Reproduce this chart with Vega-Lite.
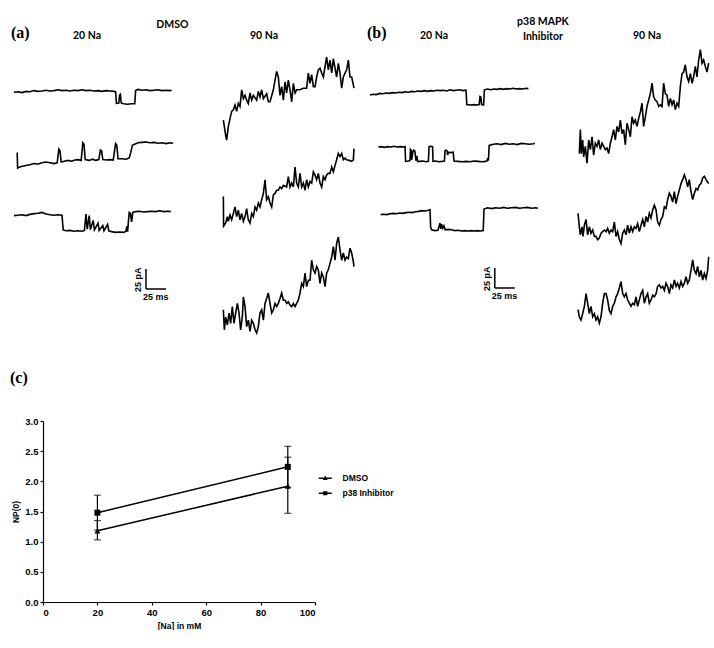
{
"$schema": "https://vega.github.io/schema/vega-lite/v6.json",
"padding": {"left": 10, "top": 17, "right": 0, "bottom": 0},
"background": "white",
"config": {"view": {"stroke": null}, "font": "Liberation Sans",
 "axis": {"grid": false, "domainColor": "black", "tickColor": "black", "tickSize": 3, "domainWidth": 1.2, "tickWidth": 1.2, "labelPadding": 2, "labelFont": "Liberation Sans", "labelFontSize": 9.5, "labelFontWeight": "bold", "labelColor": "black", "titleFont": "Liberation Sans", "titleFontSize": 8.5, "titleFontWeight": "bold", "titleColor": "black"}},
"datasets": {
"sb": [{"p":"A","t0":165,"t1":190,"i0":0,"i1":25,"tl":"25 ms","il":"25 pA"},{"p":"B","t0":156,"t1":181,"i0":0,"i1":25,"tl":"25 ms","il":"25 pA"}],
"np": [{"na":20,"g":"DMSO","np":1.18,"lo":1.03,"hi":1.35},{"na":90,"g":"DMSO","np":1.92,"lo":1.47,"hi":2.4},{"na":20,"g":"p38 Inhibitor","np":1.48,"lo":1.19,"hi":1.77},{"na":90,"g":"p38 Inhibitor","np":2.24,"lo":1.9,"hi":2.58}],
"tr": [
{"k":"a20_1","t":0,"i":-1.5},{"k":"a20_1","t":5,"i":-1},{"k":"a20_1","t":10,"i":-2},{"k":"a20_1","t":15,"i":-0.5},{"k":"a20_1","t":20,"i":-1},{"k":"a20_1","t":25,"i":0.5},{"k":"a20_1","t":30,"i":-0.5},{"k":"a20_1","t":35,"i":0},{"k":"a20_1","t":40,"i":1},{"k":"a20_1","t":45,"i":0},{"k":"a20_1","t":50,"i":0.5},{"k":"a20_1","t":55,"i":1.5},{"k":"a20_1","t":60,"i":0.5},{"k":"a20_1","t":65,"i":1},{"k":"a20_1","t":70,"i":0},{"k":"a20_1","t":75,"i":1},{"k":"a20_1","t":80,"i":0.5},{"k":"a20_1","t":85,"i":1.5},{"k":"a20_1","t":90,"i":0.5},{"k":"a20_1","t":95,"i":1},{"k":"a20_1","t":100,"i":0},{"k":"a20_1","t":105,"i":0.5},{"k":"a20_1","t":110,"i":-0.5},{"k":"a20_1","t":115,"i":0.5},{"k":"a20_1","t":120,"i":0},{"k":"a20_1","t":125,"i":-0.5},{"k":"a20_1","t":127,"i":-1},{"k":"a20_1","t":128,"i":-15.5},{"k":"a20_1","t":131,"i":-15},{"k":"a20_1","t":132,"i":-5},{"k":"a20_1","t":133,"i":-4},{"k":"a20_1","t":134,"i":-15},{"k":"a20_1","t":137,"i":-16},{"k":"a20_1","t":142,"i":-16.5},{"k":"a20_1","t":147,"i":-16},{"k":"a20_1","t":151,"i":-16},{"k":"a20_1","t":152,"i":0.5},{"k":"a20_1","t":155,"i":2},{"k":"a20_1","t":160,"i":1},{"k":"a20_1","t":165,"i":1.5},{"k":"a20_1","t":170,"i":0.5},{"k":"a20_1","t":175,"i":1},{"k":"a20_1","t":180,"i":1.5},{"k":"a20_1","t":185,"i":0.5},{"k":"a20_1","t":190,"i":1},{"k":"a20_1","t":195,"i":0.5},{"k":"a20_1","t":197,"i":1},
{"k":"a20_2","t":4,"i":12},{"k":"a20_2","t":4.5,"i":-7.5},{"k":"a20_2","t":8,"i":-6},{"k":"a20_2","t":12,"i":-5},{"k":"a20_2","t":16,"i":-4},{"k":"a20_2","t":20,"i":-3.5},{"k":"a20_2","t":25,"i":-2},{"k":"a20_2","t":30,"i":-2.5},{"k":"a20_2","t":35,"i":-1},{"k":"a20_2","t":40,"i":0},{"k":"a20_2","t":45,"i":-1},{"k":"a20_2","t":50,"i":-2},{"k":"a20_2","t":54,"i":-1},{"k":"a20_2","t":56,"i":16},{"k":"a20_2","t":57.5,"i":14},{"k":"a20_2","t":59,"i":0},{"k":"a20_2","t":63,"i":1},{"k":"a20_2","t":68,"i":2},{"k":"a20_2","t":72,"i":1},{"k":"a20_2","t":76,"i":2.5},{"k":"a20_2","t":80,"i":3},{"k":"a20_2","t":84,"i":2},{"k":"a20_2","t":86,"i":24},{"k":"a20_2","t":87.5,"i":22},{"k":"a20_2","t":89,"i":3},{"k":"a20_2","t":94,"i":2},{"k":"a20_2","t":98,"i":3.5},{"k":"a20_2","t":102,"i":2},{"k":"a20_2","t":106,"i":3},{"k":"a20_2","t":108,"i":15},{"k":"a20_2","t":109.5,"i":14},{"k":"a20_2","t":111,"i":3},{"k":"a20_2","t":116,"i":2.5},{"k":"a20_2","t":120,"i":3},{"k":"a20_2","t":124,"i":2.5},{"k":"a20_2","t":127,"i":23},{"k":"a20_2","t":128.5,"i":21},{"k":"a20_2","t":130,"i":4},{"k":"a20_2","t":135,"i":4},{"k":"a20_2","t":140,"i":3.5},{"k":"a20_2","t":144,"i":5},{"k":"a20_2","t":146,"i":12},{"k":"a20_2","t":148,"i":21},{"k":"a20_2","t":150,"i":22},{"k":"a20_2","t":155,"i":24},{"k":"a20_2","t":160,"i":24.5},{"k":"a20_2","t":165,"i":25},{"k":"a20_2","t":170,"i":24},{"k":"a20_2","t":175,"i":24.5},{"k":"a20_2","t":180,"i":23.5},{"k":"a20_2","t":185,"i":24},{"k":"a20_2","t":190,"i":23},{"k":"a20_2","t":195,"i":24},{"k":"a20_2","t":199,"i":23.5},
{"k":"a20_3","t":0,"i":0},{"k":"a20_3","t":5,"i":0.5},{"k":"a20_3","t":10,"i":1},{"k":"a20_3","t":15,"i":0},{"k":"a20_3","t":20,"i":1.5},{"k":"a20_3","t":25,"i":2.5},{"k":"a20_3","t":30,"i":3},{"k":"a20_3","t":35,"i":4},{"k":"a20_3","t":40,"i":2},{"k":"a20_3","t":45,"i":1},{"k":"a20_3","t":50,"i":0.5},{"k":"a20_3","t":55,"i":1},{"k":"a20_3","t":60,"i":0.5},{"k":"a20_3","t":61.5,"i":-18},{"k":"a20_3","t":65,"i":-19},{"k":"a20_3","t":70,"i":-18.5},{"k":"a20_3","t":75,"i":-19.5},{"k":"a20_3","t":80,"i":-19},{"k":"a20_3","t":85,"i":-19.5},{"k":"a20_3","t":88,"i":-18.5},{"k":"a20_3","t":90,"i":2},{"k":"a20_3","t":91.5,"i":-17},{"k":"a20_3","t":94,"i":0},{"k":"a20_3","t":95.5,"i":-17.5},{"k":"a20_3","t":99,"i":-6},{"k":"a20_3","t":100.5,"i":-18},{"k":"a20_3","t":105,"i":-9.5},{"k":"a20_3","t":106.5,"i":-18.5},{"k":"a20_3","t":111,"i":-12.5},{"k":"a20_3","t":112.5,"i":-19},{"k":"a20_3","t":117,"i":-11},{"k":"a20_3","t":118.5,"i":-19},{"k":"a20_3","t":122,"i":-20},{"k":"a20_3","t":127,"i":-21},{"k":"a20_3","t":132,"i":-20.5},{"k":"a20_3","t":137,"i":-21},{"k":"a20_3","t":140,"i":-19.5},{"k":"a20_3","t":141,"i":-13.5},{"k":"a20_3","t":142,"i":-20},{"k":"a20_3","t":144,"i":4},{"k":"a20_3","t":145.5,"i":3},{"k":"a20_3","t":147,"i":-8},{"k":"a20_3","t":148.5,"i":4},{"k":"a20_3","t":152,"i":5},{"k":"a20_3","t":157,"i":5.5},{"k":"a20_3","t":162,"i":4.5},{"k":"a20_3","t":167,"i":5},{"k":"a20_3","t":172,"i":5.5},{"k":"a20_3","t":177,"i":5},{"k":"a20_3","t":182,"i":6},{"k":"a20_3","t":187,"i":5},{"k":"a20_3","t":192,"i":5.5},{"k":"a20_3","t":196,"i":5},
{"k":"a90_1","t":1.7,"i":31},{"k":"a90_1","t":4.6,"i":12},{"k":"a90_1","t":5.8,"i":6},{"k":"a90_1","t":7.9,"i":23},{"k":"a90_1","t":10,"i":33},{"k":"a90_1","t":12.1,"i":42},{"k":"a90_1","t":14.2,"i":44},{"k":"a90_1","t":16.3,"i":50},{"k":"a90_1","t":18.3,"i":42},{"k":"a90_1","t":20.4,"i":52},{"k":"a90_1","t":22.5,"i":48},{"k":"a90_1","t":24.6,"i":69},{"k":"a90_1","t":26.7,"i":58},{"k":"a90_1","t":28.8,"i":62},{"k":"a90_1","t":30.8,"i":56},{"k":"a90_1","t":32.9,"i":52},{"k":"a90_1","t":35,"i":65},{"k":"a90_1","t":37.1,"i":56},{"k":"a90_1","t":39.2,"i":62},{"k":"a90_1","t":43.3,"i":56},{"k":"a90_1","t":45.4,"i":67},{"k":"a90_1","t":47.5,"i":60},{"k":"a90_1","t":49.6,"i":69},{"k":"a90_1","t":51.7,"i":58},{"k":"a90_1","t":55.8,"i":64},{"k":"a90_1","t":57.9,"i":54},{"k":"a90_1","t":60,"i":54},{"k":"a90_1","t":64.2,"i":69},{"k":"a90_1","t":66.3,"i":81},{"k":"a90_1","t":68.3,"i":92},{"k":"a90_1","t":70.4,"i":85},{"k":"a90_1","t":72.5,"i":62},{"k":"a90_1","t":74.6,"i":73},{"k":"a90_1","t":76.7,"i":56},{"k":"a90_1","t":78.8,"i":79},{"k":"a90_1","t":80.8,"i":65},{"k":"a90_1","t":82.9,"i":81},{"k":"a90_1","t":85,"i":69},{"k":"a90_1","t":87.1,"i":54},{"k":"a90_1","t":89.2,"i":77},{"k":"a90_1","t":91.3,"i":65},{"k":"a90_1","t":93.3,"i":69},{"k":"a90_1","t":97.5,"i":69},{"k":"a90_1","t":101.7,"i":71},{"k":"a90_1","t":105.8,"i":71},{"k":"a90_1","t":107.9,"i":90},{"k":"a90_1","t":110,"i":77},{"k":"a90_1","t":112.1,"i":88},{"k":"a90_1","t":114.2,"i":73},{"k":"a90_1","t":116.3,"i":73},{"k":"a90_1","t":118.3,"i":85},{"k":"a90_1","t":120.4,"i":94},{"k":"a90_1","t":122.5,"i":96},{"k":"a90_1","t":124.6,"i":90},{"k":"a90_1","t":126.7,"i":85},{"k":"a90_1","t":128.8,"i":98},{"k":"a90_1","t":130.8,"i":110},{"k":"a90_1","t":132.9,"i":94},{"k":"a90_1","t":135,"i":106},{"k":"a90_1","t":137.1,"i":90},{"k":"a90_1","t":139.2,"i":108},{"k":"a90_1","t":141.3,"i":96},{"k":"a90_1","t":143.3,"i":85},{"k":"a90_1","t":145.4,"i":102},{"k":"a90_1","t":147.5,"i":90},{"k":"a90_1","t":149.6,"i":71},{"k":"a90_1","t":151.7,"i":85},{"k":"a90_1","t":153.8,"i":90},{"k":"a90_1","t":155.8,"i":94},{"k":"a90_1","t":157.9,"i":106},{"k":"a90_1","t":160,"i":85},{"k":"a90_1","t":162.1,"i":85},{"k":"a90_1","t":165,"i":71},
{"k":"a90_2","t":1.7,"i":43},{"k":"a90_2","t":2,"i":6},{"k":"a90_2","t":4.6,"i":10},{"k":"a90_2","t":6.7,"i":18},{"k":"a90_2","t":7.9,"i":12},{"k":"a90_2","t":10,"i":20},{"k":"a90_2","t":12.1,"i":14},{"k":"a90_2","t":14.2,"i":22},{"k":"a90_2","t":16.3,"i":30},{"k":"a90_2","t":18.3,"i":18},{"k":"a90_2","t":20.4,"i":26},{"k":"a90_2","t":22.5,"i":14},{"k":"a90_2","t":24.6,"i":22},{"k":"a90_2","t":26.7,"i":12},{"k":"a90_2","t":28.8,"i":18},{"k":"a90_2","t":30.8,"i":28},{"k":"a90_2","t":32.9,"i":14},{"k":"a90_2","t":35,"i":10},{"k":"a90_2","t":37.1,"i":22},{"k":"a90_2","t":39.2,"i":18},{"k":"a90_2","t":41.3,"i":30},{"k":"a90_2","t":43.3,"i":26},{"k":"a90_2","t":45.4,"i":35},{"k":"a90_2","t":47.5,"i":30},{"k":"a90_2","t":49.6,"i":39},{"k":"a90_2","t":51.7,"i":47},{"k":"a90_2","t":53.8,"i":64},{"k":"a90_2","t":55.8,"i":39},{"k":"a90_2","t":57.9,"i":43},{"k":"a90_2","t":60,"i":35},{"k":"a90_2","t":62.1,"i":30},{"k":"a90_2","t":64.2,"i":45},{"k":"a90_2","t":66.3,"i":47},{"k":"a90_2","t":68.3,"i":51},{"k":"a90_2","t":70.4,"i":51},{"k":"a90_2","t":72.5,"i":55},{"k":"a90_2","t":74.6,"i":53},{"k":"a90_2","t":76.7,"i":57},{"k":"a90_2","t":80.8,"i":55},{"k":"a90_2","t":82.9,"i":68},{"k":"a90_2","t":85,"i":55},{"k":"a90_2","t":87.1,"i":60},{"k":"a90_2","t":89.2,"i":55},{"k":"a90_2","t":91.3,"i":80},{"k":"a90_2","t":93.3,"i":60},{"k":"a90_2","t":95.4,"i":55},{"k":"a90_2","t":97.5,"i":72},{"k":"a90_2","t":99.6,"i":55},{"k":"a90_2","t":101.7,"i":60},{"k":"a90_2","t":103.8,"i":51},{"k":"a90_2","t":105.8,"i":64},{"k":"a90_2","t":107.9,"i":55},{"k":"a90_2","t":110,"i":62},{"k":"a90_2","t":112.1,"i":60},{"k":"a90_2","t":114.2,"i":74},{"k":"a90_2","t":116.3,"i":70},{"k":"a90_2","t":118.3,"i":64},{"k":"a90_2","t":120.4,"i":72},{"k":"a90_2","t":122.5,"i":60},{"k":"a90_2","t":124.6,"i":55},{"k":"a90_2","t":126.7,"i":68},{"k":"a90_2","t":128.8,"i":64},{"k":"a90_2","t":130.8,"i":70},{"k":"a90_2","t":132.9,"i":72},{"k":"a90_2","t":135,"i":72},{"k":"a90_2","t":137.1,"i":80},{"k":"a90_2","t":139.2,"i":74},{"k":"a90_2","t":141.3,"i":82},{"k":"a90_2","t":143.3,"i":89},{"k":"a90_2","t":145.4,"i":97},{"k":"a90_2","t":147.5,"i":93},{"k":"a90_2","t":149.6,"i":97},{"k":"a90_2","t":151.7,"i":89},{"k":"a90_2","t":153.8,"i":91},{"k":"a90_2","t":155.8,"i":89},{"k":"a90_2","t":160,"i":88},{"k":"a90_2","t":162.1,"i":87},{"k":"a90_2","t":164.2,"i":89},{"k":"a90_2","t":165,"i":103},
{"k":"a90_3","t":1.7,"i":34},{"k":"a90_3","t":2.9,"i":9},{"k":"a90_3","t":4.6,"i":25},{"k":"a90_3","t":6.7,"i":15},{"k":"a90_3","t":8.8,"i":30},{"k":"a90_3","t":10.8,"i":17},{"k":"a90_3","t":12.9,"i":38},{"k":"a90_3","t":15,"i":17},{"k":"a90_3","t":17.1,"i":30},{"k":"a90_3","t":19.2,"i":42},{"k":"a90_3","t":21.3,"i":30},{"k":"a90_3","t":23.3,"i":9},{"k":"a90_3","t":25.4,"i":25},{"k":"a90_3","t":26.7,"i":50},{"k":"a90_3","t":28.8,"i":38},{"k":"a90_3","t":30.8,"i":13},{"k":"a90_3","t":32.9,"i":21},{"k":"a90_3","t":35,"i":7},{"k":"a90_3","t":37.1,"i":21},{"k":"a90_3","t":39.2,"i":17},{"k":"a90_3","t":41.3,"i":9},{"k":"a90_3","t":43.3,"i":5},{"k":"a90_3","t":45.4,"i":13},{"k":"a90_3","t":47.5,"i":30},{"k":"a90_3","t":49.6,"i":34},{"k":"a90_3","t":51.7,"i":21},{"k":"a90_3","t":53.8,"i":42},{"k":"a90_3","t":55.8,"i":48},{"k":"a90_3","t":57.9,"i":55},{"k":"a90_3","t":60,"i":42},{"k":"a90_3","t":62.1,"i":30},{"k":"a90_3","t":64.2,"i":34},{"k":"a90_3","t":66.3,"i":42},{"k":"a90_3","t":68.3,"i":38},{"k":"a90_3","t":70.4,"i":42},{"k":"a90_3","t":72.5,"i":48},{"k":"a90_3","t":74.6,"i":55},{"k":"a90_3","t":76.7,"i":46},{"k":"a90_3","t":78.8,"i":46},{"k":"a90_3","t":80.8,"i":42},{"k":"a90_3","t":82.9,"i":44},{"k":"a90_3","t":85,"i":40},{"k":"a90_3","t":87.1,"i":38},{"k":"a90_3","t":89.2,"i":42},{"k":"a90_3","t":91.3,"i":38},{"k":"a90_3","t":93.3,"i":42},{"k":"a90_3","t":95.4,"i":46},{"k":"a90_3","t":97.5,"i":55},{"k":"a90_3","t":99.6,"i":67},{"k":"a90_3","t":101.7,"i":63},{"k":"a90_3","t":103.8,"i":80},{"k":"a90_3","t":105.8,"i":63},{"k":"a90_3","t":107.9,"i":71},{"k":"a90_3","t":110,"i":71},{"k":"a90_3","t":112.1,"i":96},{"k":"a90_3","t":114.2,"i":84},{"k":"a90_3","t":116.3,"i":80},{"k":"a90_3","t":118.3,"i":88},{"k":"a90_3","t":120.4,"i":84},{"k":"a90_3","t":122.5,"i":67},{"k":"a90_3","t":124.6,"i":80},{"k":"a90_3","t":126.7,"i":75},{"k":"a90_3","t":128.8,"i":63},{"k":"a90_3","t":130.8,"i":80},{"k":"a90_3","t":132.9,"i":84},{"k":"a90_3","t":135,"i":92},{"k":"a90_3","t":137.1,"i":100},{"k":"a90_3","t":139.2,"i":113},{"k":"a90_3","t":141.3,"i":96},{"k":"a90_3","t":143.3,"i":117},{"k":"a90_3","t":145.4,"i":125},{"k":"a90_3","t":147.5,"i":109},{"k":"a90_3","t":149.6,"i":96},{"k":"a90_3","t":151.7,"i":105},{"k":"a90_3","t":153.8,"i":96},{"k":"a90_3","t":155.8,"i":100},{"k":"a90_3","t":157.9,"i":98},{"k":"a90_3","t":160,"i":111},{"k":"a90_3","t":162.1,"i":105},{"k":"a90_3","t":164.2,"i":94},{"k":"a90_3","t":165,"i":88},
{"k":"b20_1","t":0,"i":-5},{"k":"b20_1","t":4,"i":-4},{"k":"b20_1","t":8,"i":-4.5},{"k":"b20_1","t":12,"i":-3},{"k":"b20_1","t":16,"i":-3.5},{"k":"b20_1","t":20,"i":-2.5},{"k":"b20_1","t":24,"i":-3},{"k":"b20_1","t":28,"i":-2},{"k":"b20_1","t":32,"i":-2.5},{"k":"b20_1","t":36,"i":-1.5},{"k":"b20_1","t":40,"i":-2},{"k":"b20_1","t":44,"i":-1},{"k":"b20_1","t":48,"i":-1.5},{"k":"b20_1","t":52,"i":-0.5},{"k":"b20_1","t":56,"i":-1},{"k":"b20_1","t":60,"i":0},{"k":"b20_1","t":64,"i":-0.5},{"k":"b20_1","t":68,"i":0.5},{"k":"b20_1","t":72,"i":-0.5},{"k":"b20_1","t":76,"i":0.5},{"k":"b20_1","t":80,"i":0},{"k":"b20_1","t":84,"i":1},{"k":"b20_1","t":88,"i":0.5},{"k":"b20_1","t":92,"i":1},{"k":"b20_1","t":96,"i":0},{"k":"b20_1","t":100,"i":1.5},{"k":"b20_1","t":104,"i":0.5},{"k":"b20_1","t":108,"i":1},{"k":"b20_1","t":112,"i":1.5},{"k":"b20_1","t":116,"i":0.5},{"k":"b20_1","t":120,"i":1},{"k":"b20_1","t":121,"i":-17},{"k":"b20_1","t":125,"i":-17.5},{"k":"b20_1","t":130,"i":-17},{"k":"b20_1","t":134,"i":-17.5},{"k":"b20_1","t":136.5,"i":-17},{"k":"b20_1","t":137.5,"i":-7},{"k":"b20_1","t":138.5,"i":-7.5},{"k":"b20_1","t":139.5,"i":-17},{"k":"b20_1","t":142,"i":-17.5},{"k":"b20_1","t":143,"i":1.5},{"k":"b20_1","t":147,"i":2.5},{"k":"b20_1","t":151,"i":1.5},{"k":"b20_1","t":155,"i":2.5},{"k":"b20_1","t":159,"i":2},{"k":"b20_1","t":163,"i":3},{"k":"b20_1","t":167,"i":2},{"k":"b20_1","t":171,"i":3},{"k":"b20_1","t":175,"i":2.5},{"k":"b20_1","t":179,"i":3.5},{"k":"b20_1","t":183,"i":2.5},{"k":"b20_1","t":187,"i":3},{"k":"b20_1","t":191,"i":2.5},{"k":"b20_1","t":195,"i":3.5},{"k":"b20_1","t":198,"i":3},
{"k":"b20_2","t":10.4,"i":20},{"k":"b20_2","t":14,"i":20.5},{"k":"b20_2","t":18,"i":19.5},{"k":"b20_2","t":22,"i":20.5},{"k":"b20_2","t":26,"i":20},{"k":"b20_2","t":30,"i":21},{"k":"b20_2","t":34,"i":20},{"k":"b20_2","t":38,"i":20.5},{"k":"b20_2","t":42,"i":20},{"k":"b20_2","t":43.8,"i":20.5},{"k":"b20_2","t":44.5,"i":2},{"k":"b20_2","t":48,"i":2.5},{"k":"b20_2","t":50,"i":3},{"k":"b20_2","t":50.6,"i":17},{"k":"b20_2","t":51.4,"i":16},{"k":"b20_2","t":52.1,"i":4},{"k":"b20_2","t":53.5,"i":14},{"k":"b20_2","t":54.5,"i":16},{"k":"b20_2","t":56,"i":15},{"k":"b20_2","t":57.5,"i":3},{"k":"b20_2","t":58.5,"i":9},{"k":"b20_2","t":59.5,"i":2},{"k":"b20_2","t":62,"i":2},{"k":"b20_2","t":66,"i":2.5},{"k":"b20_2","t":70,"i":1.5},{"k":"b20_2","t":73,"i":2},{"k":"b20_2","t":73.8,"i":20.5},{"k":"b20_2","t":76,"i":21},{"k":"b20_2","t":78.2,"i":20.5},{"k":"b20_2","t":78.8,"i":2},{"k":"b20_2","t":82,"i":2.5},{"k":"b20_2","t":86,"i":1.5},{"k":"b20_2","t":90,"i":2},{"k":"b20_2","t":93,"i":2.5},{"k":"b20_2","t":93.8,"i":15.5},{"k":"b20_2","t":95,"i":16},{"k":"b20_2","t":96.5,"i":15},{"k":"b20_2","t":97,"i":10},{"k":"b20_2","t":98,"i":13.5},{"k":"b20_2","t":101,"i":13},{"k":"b20_2","t":104,"i":13.5},{"k":"b20_2","t":105,"i":2.5},{"k":"b20_2","t":110,"i":2},{"k":"b20_2","t":115,"i":1.5},{"k":"b20_2","t":120,"i":2},{"k":"b20_2","t":125,"i":1.5},{"k":"b20_2","t":130,"i":2.5},{"k":"b20_2","t":135,"i":2},{"k":"b20_2","t":140,"i":1.5},{"k":"b20_2","t":145,"i":2},{"k":"b20_2","t":146.5,"i":3},{"k":"b20_2","t":147,"i":6},{"k":"b20_2","t":148,"i":3},{"k":"b20_2","t":149,"i":22},{"k":"b20_2","t":154,"i":23.5},{"k":"b20_2","t":159,"i":24},{"k":"b20_2","t":164,"i":23},{"k":"b20_2","t":169,"i":24.5},{"k":"b20_2","t":174,"i":23.5},{"k":"b20_2","t":179,"i":24},{"k":"b20_2","t":184,"i":23},{"k":"b20_2","t":189,"i":24.5},{"k":"b20_2","t":194,"i":24},{"k":"b20_2","t":199,"i":23.5},{"k":"b20_2","t":204,"i":24},{"k":"b20_2","t":206,"i":24.5},
{"k":"b20_3","t":13.3,"i":0},{"k":"b20_3","t":17,"i":0.5},{"k":"b20_3","t":21,"i":0},{"k":"b20_3","t":25,"i":1},{"k":"b20_3","t":29,"i":1.5},{"k":"b20_3","t":33,"i":1},{"k":"b20_3","t":37,"i":2},{"k":"b20_3","t":41,"i":1.5},{"k":"b20_3","t":45,"i":2.5},{"k":"b20_3","t":49,"i":3},{"k":"b20_3","t":53,"i":2.5},{"k":"b20_3","t":57,"i":3.5},{"k":"b20_3","t":61,"i":4},{"k":"b20_3","t":65,"i":5},{"k":"b20_3","t":69,"i":4.5},{"k":"b20_3","t":73,"i":5.5},{"k":"b20_3","t":75,"i":6},{"k":"b20_3","t":75.8,"i":-16},{"k":"b20_3","t":77,"i":-19},{"k":"b20_3","t":81,"i":-20},{"k":"b20_3","t":85,"i":-19.5},{"k":"b20_3","t":87.5,"i":-10.5},{"k":"b20_3","t":88.5,"i":-18},{"k":"b20_3","t":89.5,"i":-12},{"k":"b20_3","t":91,"i":-17},{"k":"b20_3","t":92.5,"i":-14},{"k":"b20_3","t":94,"i":-19},{"k":"b20_3","t":98,"i":-18.5},{"k":"b20_3","t":102,"i":-19},{"k":"b20_3","t":106,"i":-20},{"k":"b20_3","t":110,"i":-19.5},{"k":"b20_3","t":114,"i":-20.5},{"k":"b20_3","t":118,"i":-20},{"k":"b20_3","t":122,"i":-20.5},{"k":"b20_3","t":126,"i":-20},{"k":"b20_3","t":130,"i":-20.5},{"k":"b20_3","t":134,"i":-20},{"k":"b20_3","t":138,"i":-20.5},{"k":"b20_3","t":141.5,"i":-20},{"k":"b20_3","t":142.5,"i":7},{"k":"b20_3","t":147,"i":8.5},{"k":"b20_3","t":152,"i":7.5},{"k":"b20_3","t":157,"i":8.5},{"k":"b20_3","t":162,"i":8},{"k":"b20_3","t":167,"i":9},{"k":"b20_3","t":172,"i":8},{"k":"b20_3","t":177,"i":8.5},{"k":"b20_3","t":182,"i":9},{"k":"b20_3","t":187,"i":8},{"k":"b20_3","t":192,"i":8.5},{"k":"b20_3","t":197,"i":9},{"k":"b20_3","t":202,"i":8},{"k":"b20_3","t":207,"i":8.5},{"k":"b20_3","t":210,"i":8},
{"k":"b90_1","t":2.9,"i":18},{"k":"b90_1","t":4.2,"i":48},{"k":"b90_1","t":5.4,"i":18},{"k":"b90_1","t":7.1,"i":35},{"k":"b90_1","t":8.3,"i":14},{"k":"b90_1","t":10.4,"i":27},{"k":"b90_1","t":12.5,"i":6},{"k":"b90_1","t":14.6,"i":35},{"k":"b90_1","t":16.7,"i":23},{"k":"b90_1","t":18.8,"i":39},{"k":"b90_1","t":20.8,"i":16},{"k":"b90_1","t":22.9,"i":31},{"k":"b90_1","t":25,"i":27},{"k":"b90_1","t":27.1,"i":35},{"k":"b90_1","t":29.2,"i":23},{"k":"b90_1","t":31.3,"i":31},{"k":"b90_1","t":33.3,"i":27},{"k":"b90_1","t":35.4,"i":23},{"k":"b90_1","t":37.5,"i":25},{"k":"b90_1","t":39.6,"i":18},{"k":"b90_1","t":41.7,"i":31},{"k":"b90_1","t":43.8,"i":39},{"k":"b90_1","t":45.8,"i":48},{"k":"b90_1","t":47.9,"i":35},{"k":"b90_1","t":50,"i":52},{"k":"b90_1","t":52.1,"i":45},{"k":"b90_1","t":54.2,"i":60},{"k":"b90_1","t":56.3,"i":43},{"k":"b90_1","t":58.3,"i":48},{"k":"b90_1","t":60.4,"i":29},{"k":"b90_1","t":62.5,"i":56},{"k":"b90_1","t":64.6,"i":48},{"k":"b90_1","t":66.7,"i":39},{"k":"b90_1","t":68.8,"i":64},{"k":"b90_1","t":70.8,"i":56},{"k":"b90_1","t":72.9,"i":60},{"k":"b90_1","t":75,"i":52},{"k":"b90_1","t":77.1,"i":62},{"k":"b90_1","t":79.2,"i":70},{"k":"b90_1","t":81.3,"i":81},{"k":"b90_1","t":83.3,"i":52},{"k":"b90_1","t":85.4,"i":64},{"k":"b90_1","t":87.5,"i":77},{"k":"b90_1","t":89.6,"i":85},{"k":"b90_1","t":91.7,"i":93},{"k":"b90_1","t":93.8,"i":106},{"k":"b90_1","t":95.8,"i":89},{"k":"b90_1","t":97.9,"i":85},{"k":"b90_1","t":100,"i":83},{"k":"b90_1","t":102.1,"i":77},{"k":"b90_1","t":104.2,"i":79},{"k":"b90_1","t":106.3,"i":77},{"k":"b90_1","t":108.3,"i":106},{"k":"b90_1","t":110.4,"i":93},{"k":"b90_1","t":112.5,"i":91},{"k":"b90_1","t":114.6,"i":77},{"k":"b90_1","t":116.7,"i":87},{"k":"b90_1","t":118.8,"i":79},{"k":"b90_1","t":120.8,"i":85},{"k":"b90_1","t":122.9,"i":73},{"k":"b90_1","t":125,"i":81},{"k":"b90_1","t":127.1,"i":77},{"k":"b90_1","t":129.2,"i":102},{"k":"b90_1","t":131.3,"i":118},{"k":"b90_1","t":133.3,"i":120},{"k":"b90_1","t":135.4,"i":129},{"k":"b90_1","t":137.5,"i":114},{"k":"b90_1","t":139.6,"i":108},{"k":"b90_1","t":141.7,"i":118},{"k":"b90_1","t":143.8,"i":106},{"k":"b90_1","t":145.8,"i":114},{"k":"b90_1","t":147.9,"i":127},{"k":"b90_1","t":150,"i":114},{"k":"b90_1","t":152.1,"i":135},{"k":"b90_1","t":154.2,"i":148},{"k":"b90_1","t":156.3,"i":131},{"k":"b90_1","t":158.3,"i":135},{"k":"b90_1","t":160.4,"i":127},{"k":"b90_1","t":162.5,"i":120},{"k":"b90_1","t":164.6,"i":131},
{"k":"b90_2","t":1.3,"i":46},{"k":"b90_2","t":2.9,"i":29},{"k":"b90_2","t":4.2,"i":19},{"k":"b90_2","t":6.3,"i":29},{"k":"b90_2","t":7.5,"i":17},{"k":"b90_2","t":9.2,"i":31},{"k":"b90_2","t":11.3,"i":38},{"k":"b90_2","t":13.3,"i":19},{"k":"b90_2","t":15.4,"i":29},{"k":"b90_2","t":17.5,"i":21},{"k":"b90_2","t":19.6,"i":25},{"k":"b90_2","t":21.7,"i":17},{"k":"b90_2","t":23.8,"i":17},{"k":"b90_2","t":25.8,"i":13},{"k":"b90_2","t":27.9,"i":15},{"k":"b90_2","t":30,"i":21},{"k":"b90_2","t":32.1,"i":23},{"k":"b90_2","t":34.2,"i":25},{"k":"b90_2","t":36.3,"i":23},{"k":"b90_2","t":38.3,"i":27},{"k":"b90_2","t":40.4,"i":21},{"k":"b90_2","t":42.5,"i":25},{"k":"b90_2","t":44.6,"i":23},{"k":"b90_2","t":46.7,"i":35},{"k":"b90_2","t":48.8,"i":17},{"k":"b90_2","t":50.8,"i":23},{"k":"b90_2","t":52.9,"i":13},{"k":"b90_2","t":55,"i":8},{"k":"b90_2","t":57.1,"i":21},{"k":"b90_2","t":59.2,"i":25},{"k":"b90_2","t":61.3,"i":19},{"k":"b90_2","t":63.3,"i":31},{"k":"b90_2","t":65.4,"i":21},{"k":"b90_2","t":67.5,"i":29},{"k":"b90_2","t":69.6,"i":23},{"k":"b90_2","t":71.7,"i":29},{"k":"b90_2","t":73.8,"i":27},{"k":"b90_2","t":75.8,"i":33},{"k":"b90_2","t":77.9,"i":23},{"k":"b90_2","t":80,"i":31},{"k":"b90_2","t":82.1,"i":38},{"k":"b90_2","t":84.2,"i":29},{"k":"b90_2","t":86.3,"i":42},{"k":"b90_2","t":88.3,"i":35},{"k":"b90_2","t":90.4,"i":46},{"k":"b90_2","t":92.5,"i":40},{"k":"b90_2","t":94.6,"i":50},{"k":"b90_2","t":96.7,"i":56},{"k":"b90_2","t":98.8,"i":50},{"k":"b90_2","t":100.8,"i":35},{"k":"b90_2","t":102.9,"i":31},{"k":"b90_2","t":105,"i":38},{"k":"b90_2","t":107.1,"i":42},{"k":"b90_2","t":109.2,"i":54},{"k":"b90_2","t":111.3,"i":52},{"k":"b90_2","t":113.3,"i":63},{"k":"b90_2","t":115.4,"i":71},{"k":"b90_2","t":117.5,"i":67},{"k":"b90_2","t":119.6,"i":60},{"k":"b90_2","t":121.7,"i":73},{"k":"b90_2","t":123.8,"i":58},{"k":"b90_2","t":125.8,"i":67},{"k":"b90_2","t":127.9,"i":75},{"k":"b90_2","t":130,"i":83},{"k":"b90_2","t":132.1,"i":88},{"k":"b90_2","t":134.2,"i":94},{"k":"b90_2","t":136.3,"i":88},{"k":"b90_2","t":138.3,"i":79},{"k":"b90_2","t":140.4,"i":88},{"k":"b90_2","t":142.5,"i":73},{"k":"b90_2","t":144.6,"i":63},{"k":"b90_2","t":146.7,"i":71},{"k":"b90_2","t":148.8,"i":77},{"k":"b90_2","t":150.8,"i":75},{"k":"b90_2","t":152.9,"i":81},{"k":"b90_2","t":155,"i":83},{"k":"b90_2","t":157.1,"i":90},{"k":"b90_2","t":159.2,"i":92},{"k":"b90_2","t":161.3,"i":88},{"k":"b90_2","t":163.3,"i":85},{"k":"b90_2","t":164.6,"i":83},
{"k":"b90_3","t":1.3,"i":28},{"k":"b90_3","t":2.9,"i":19},{"k":"b90_3","t":5,"i":15},{"k":"b90_3","t":7.1,"i":23},{"k":"b90_3","t":9.2,"i":32},{"k":"b90_3","t":11.3,"i":48},{"k":"b90_3","t":13.3,"i":36},{"k":"b90_3","t":15.4,"i":23},{"k":"b90_3","t":17.5,"i":32},{"k":"b90_3","t":19.6,"i":19},{"k":"b90_3","t":21.7,"i":23},{"k":"b90_3","t":23.8,"i":15},{"k":"b90_3","t":25.8,"i":19},{"k":"b90_3","t":27.9,"i":11},{"k":"b90_3","t":30,"i":19},{"k":"b90_3","t":32.1,"i":36},{"k":"b90_3","t":34.2,"i":48},{"k":"b90_3","t":36.3,"i":48},{"k":"b90_3","t":38.3,"i":40},{"k":"b90_3","t":40.4,"i":27},{"k":"b90_3","t":42.5,"i":23},{"k":"b90_3","t":44.6,"i":32},{"k":"b90_3","t":46.7,"i":36},{"k":"b90_3","t":48.8,"i":44},{"k":"b90_3","t":50.8,"i":48},{"k":"b90_3","t":52.9,"i":55},{"k":"b90_3","t":55,"i":63},{"k":"b90_3","t":57.1,"i":48},{"k":"b90_3","t":59.2,"i":44},{"k":"b90_3","t":61.3,"i":48},{"k":"b90_3","t":63.3,"i":40},{"k":"b90_3","t":65.4,"i":36},{"k":"b90_3","t":67.5,"i":32},{"k":"b90_3","t":69.6,"i":36},{"k":"b90_3","t":71.7,"i":34},{"k":"b90_3","t":73.8,"i":44},{"k":"b90_3","t":75.8,"i":32},{"k":"b90_3","t":77.9,"i":40},{"k":"b90_3","t":80,"i":48},{"k":"b90_3","t":82.1,"i":52},{"k":"b90_3","t":84.2,"i":36},{"k":"b90_3","t":86.3,"i":44},{"k":"b90_3","t":88.3,"i":48},{"k":"b90_3","t":90.4,"i":36},{"k":"b90_3","t":92.5,"i":40},{"k":"b90_3","t":94.6,"i":46},{"k":"b90_3","t":96.7,"i":44},{"k":"b90_3","t":98.8,"i":48},{"k":"b90_3","t":100.8,"i":57},{"k":"b90_3","t":102.9,"i":59},{"k":"b90_3","t":105,"i":55},{"k":"b90_3","t":107.1,"i":57},{"k":"b90_3","t":109.2,"i":52},{"k":"b90_3","t":111.3,"i":61},{"k":"b90_3","t":113.3,"i":57},{"k":"b90_3","t":115.4,"i":48},{"k":"b90_3","t":117.5,"i":59},{"k":"b90_3","t":119.6,"i":55},{"k":"b90_3","t":121.7,"i":65},{"k":"b90_3","t":123.8,"i":57},{"k":"b90_3","t":125.8,"i":61},{"k":"b90_3","t":127.9,"i":55},{"k":"b90_3","t":130,"i":63},{"k":"b90_3","t":132.1,"i":57},{"k":"b90_3","t":134.2,"i":61},{"k":"b90_3","t":136.3,"i":69},{"k":"b90_3","t":138.3,"i":61},{"k":"b90_3","t":140.4,"i":65},{"k":"b90_3","t":142.5,"i":77},{"k":"b90_3","t":144.6,"i":90},{"k":"b90_3","t":146.7,"i":77},{"k":"b90_3","t":148.8,"i":73},{"k":"b90_3","t":150.8,"i":82},{"k":"b90_3","t":152.9,"i":69},{"k":"b90_3","t":155,"i":77},{"k":"b90_3","t":157.1,"i":65},{"k":"b90_3","t":159.2,"i":73},{"k":"b90_3","t":161.3,"i":67},{"k":"b90_3","t":163.3,"i":77},{"k":"b90_3","t":164.6,"i":94}
]},
"vconcat": [
{"hconcat": [
 {"title": {"text": "DMSO", "font": "Lato", "fontSize": 10.5, "fontWeight": "bold", "color": "black", "anchor": "middle", "frame": "bounds", "dx": -12, "offset": -6},
  "hconcat": [
   {"title": {"text": "(a)", "font": "Liberation Serif", "fontSize": 16, "fontWeight": "bold", "color": "black", "anchor": "start", "frame": "group", "dx": -3, "offset": -10},
    "vconcat": [
     {"width": 160, "height": 61, "title": {"text": "20 Na", "font": "Lato", "fontSize": 10.5, "fontWeight": "bold", "color": "black", "anchor": "middle", "dx": -7, "offset": 5},
      "data": {"name": "tr"}, "transform": [{"filter": "datum.k == 'a20_1'"}], "mark": {"type": "line", "color": "black", "strokeWidth": 1.6},
      "encoding": {"x": {"field": "t", "type": "quantitative", "scale": {"domain": [0, 200], "nice": false, "zero": false}, "axis": null}, "y": {"field": "i", "type": "quantitative", "scale": {"domain": [-20, 56.25], "nice": false, "zero": false}, "axis": null}}},
     {"width": 160, "height": 32, "data": {"name": "tr"}, "transform": [{"filter": "datum.k == 'a20_2'"}], "mark": {"type": "line", "color": "black", "strokeWidth": 1.6},
      "encoding": {"x": {"field": "t", "type": "quantitative", "scale": {"domain": [0, 200], "nice": false, "zero": false}, "axis": null}, "y": {"field": "i", "type": "quantitative", "scale": {"domain": [-10, 30], "nice": false, "zero": false}, "axis": null}}},
     {"width": 160, "height": 34, "data": {"name": "tr"}, "transform": [{"filter": "datum.k == 'a20_3'"}], "mark": {"type": "line", "color": "black", "strokeWidth": 1.6},
      "encoding": {"x": {"field": "t", "type": "quantitative", "scale": {"domain": [0, 200], "nice": false, "zero": false}, "axis": null}, "y": {"field": "i", "type": "quantitative", "scale": {"domain": [-25.5, 17], "nice": false, "zero": false}, "axis": null}}},
     {"width": 160, "height": 27, "data": {"name": "sb"}, "transform": [{"filter": "datum.p == 'A'"}],
      "encoding": {"x": {"field": "t0", "type": "quantitative", "scale": {"domain": [0, 200], "nice": false, "zero": false}, "axis": null}, "y": {"field": "i0", "type": "quantitative", "scale": {"domain": [-5, 28.75], "nice": false, "zero": false}, "axis": null}},
      "layer": [
       {"mark": {"type": "rule", "color": "black", "strokeWidth": 1.5}, "encoding": {"x2": {"field": "t1"}}},
       {"mark": {"type": "rule", "color": "black", "strokeWidth": 1.5}, "encoding": {"y2": {"field": "i1"}}},
       {"mark": {"type": "text", "angle": 270, "align": "left", "baseline": "bottom", "dx": -3, "dy": -3, "font": "Liberation Sans", "fontWeight": "bold", "fontSize": 9, "color": "black"}, "encoding": {"text": {"field": "il"}}},
       {"mark": {"type": "text", "align": "left", "baseline": "top", "dx": -3, "dy": 4, "font": "Liberation Sans", "fontWeight": "bold", "fontSize": 9, "color": "black"}, "encoding": {"text": {"field": "tl"}}}
      ]}
    ], "spacing": 30, "resolve": {"scale": {"x": "independent", "y": "independent"}}},
   {"vconcat": [
     {"width": 136, "height": 99, "title": {"text": "90 Na", "font": "Lato", "fontSize": 10.5, "fontWeight": "bold", "color": "black", "anchor": "middle", "dx": -26, "offset": 5},
      "data": {"name": "tr"}, "transform": [{"filter": "datum.k == 'a90_1'"}], "mark": {"type": "line", "color": "black", "strokeWidth": 1.6},
      "encoding": {"x": {"field": "t", "type": "quantitative", "scale": {"domain": [0, 170], "nice": false, "zero": false}, "axis": null}, "y": {"field": "i", "type": "quantitative", "scale": {"domain": [0, 123.75], "nice": false, "zero": false}, "axis": null}}},
     {"width": 136, "height": 86, "data": {"name": "tr"}, "transform": [{"filter": "datum.k == 'a90_2'"}], "mark": {"type": "line", "color": "black", "strokeWidth": 1.6},
      "encoding": {"x": {"field": "t", "type": "quantitative", "scale": {"domain": [0, 170], "nice": false, "zero": false}, "axis": null}, "y": {"field": "i", "type": "quantitative", "scale": {"domain": [0, 107.5], "nice": false, "zero": false}, "axis": null}}},
     {"width": 136, "height": 106, "data": {"name": "tr"}, "transform": [{"filter": "datum.k == 'a90_3'"}], "mark": {"type": "line", "color": "black", "strokeWidth": 1.6},
      "encoding": {"x": {"field": "t", "type": "quantitative", "scale": {"domain": [0, 170], "nice": false, "zero": false}, "axis": null}, "y": {"field": "i", "type": "quantitative", "scale": {"domain": [0, 132.5], "nice": false, "zero": false}, "axis": null}}}
    ], "spacing": 0, "resolve": {"scale": {"x": "independent", "y": "independent"}}}
  ], "spacing": 43, "resolve": {"scale": {"x": "independent", "y": "independent"}}},
 {"title": {"text": ["p38 MAPK", "Inhibitor"], "lineHeight": 15, "font": "Lato", "fontSize": 10.5, "fontWeight": "bold", "color": "black", "anchor": "middle", "frame": "bounds", "dx": 3, "offset": -18},
  "hconcat": [
   {"title": {"text": "(b)", "font": "Liberation Serif", "fontSize": 16, "fontWeight": "bold", "color": "black", "anchor": "start", "frame": "group", "dx": -3, "offset": -10},
    "vconcat": [
     {"width": 170, "height": 61, "title": {"text": "20 Na", "font": "Lato", "fontSize": 10.5, "fontWeight": "bold", "color": "black", "anchor": "middle", "dx": -21, "offset": 5},
      "data": {"name": "tr"}, "transform": [{"filter": "datum.k == 'b20_1'"}], "mark": {"type": "line", "color": "black", "strokeWidth": 1.6},
      "encoding": {"x": {"field": "t", "type": "quantitative", "scale": {"domain": [0, 212.5], "nice": false, "zero": false}, "axis": null}, "y": {"field": "i", "type": "quantitative", "scale": {"domain": [-20, 56.25], "nice": false, "zero": false}, "axis": null}}},
     {"width": 170, "height": 32, "data": {"name": "tr"}, "transform": [{"filter": "datum.k == 'b20_2'"}], "mark": {"type": "line", "color": "black", "strokeWidth": 1.6},
      "encoding": {"x": {"field": "t", "type": "quantitative", "scale": {"domain": [0, 212.5], "nice": false, "zero": false}, "axis": null}, "y": {"field": "i", "type": "quantitative", "scale": {"domain": [-10, 30], "nice": false, "zero": false}, "axis": null}}},
     {"width": 170, "height": 34, "data": {"name": "tr"}, "transform": [{"filter": "datum.k == 'b20_3'"}], "mark": {"type": "line", "color": "black", "strokeWidth": 1.6},
      "encoding": {"x": {"field": "t", "type": "quantitative", "scale": {"domain": [0, 212.5], "nice": false, "zero": false}, "axis": null}, "y": {"field": "i", "type": "quantitative", "scale": {"domain": [-25.5, 17], "nice": false, "zero": false}, "axis": null}}},
     {"width": 170, "height": 27, "data": {"name": "sb"}, "transform": [{"filter": "datum.p == 'B'"}],
      "encoding": {"x": {"field": "t0", "type": "quantitative", "scale": {"domain": [0, 212.5], "nice": false, "zero": false}, "axis": null}, "y": {"field": "i0", "type": "quantitative", "scale": {"domain": [-5, 28.75], "nice": false, "zero": false}, "axis": null}},
      "layer": [
       {"mark": {"type": "rule", "color": "black", "strokeWidth": 1.5}, "encoding": {"x2": {"field": "t1"}}},
       {"mark": {"type": "rule", "color": "black", "strokeWidth": 1.5}, "encoding": {"y2": {"field": "i1"}}},
       {"mark": {"type": "text", "angle": 270, "align": "left", "baseline": "bottom", "dx": -3, "dy": -3, "font": "Liberation Sans", "fontWeight": "bold", "fontSize": 9, "color": "black"}, "encoding": {"text": {"field": "il"}}},
       {"mark": {"type": "text", "align": "left", "baseline": "top", "dx": -3, "dy": 4, "font": "Liberation Sans", "fontWeight": "bold", "fontSize": 9, "color": "black"}, "encoding": {"text": {"field": "tl"}}}
      ]}
    ], "spacing": 30, "resolve": {"scale": {"x": "independent", "y": "independent"}}},
   {"vconcat": [
     {"width": 136, "height": 122, "title": {"text": "90 Na", "font": "Lato", "fontSize": 10.5, "fontWeight": "bold", "color": "black", "anchor": "middle", "dx": 2, "offset": 5},
      "data": {"name": "tr"}, "transform": [{"filter": "datum.k == 'b90_1'"}], "mark": {"type": "line", "color": "black", "strokeWidth": 1.6},
      "encoding": {"x": {"field": "t", "type": "quantitative", "scale": {"domain": [0, 170], "nice": false, "zero": false}, "axis": null}, "y": {"field": "i", "type": "quantitative", "scale": {"domain": [0, 152.5], "nice": false, "zero": false}, "axis": null}}},
     {"width": 136, "height": 82, "data": {"name": "tr"}, "transform": [{"filter": "datum.k == 'b90_2'"}], "mark": {"type": "line", "color": "black", "strokeWidth": 1.6},
      "encoding": {"x": {"field": "t", "type": "quantitative", "scale": {"domain": [0, 170], "nice": false, "zero": false}, "axis": null}, "y": {"field": "i", "type": "quantitative", "scale": {"domain": [0, 102.5], "nice": false, "zero": false}, "axis": null}}},
     {"width": 136, "height": 82, "data": {"name": "tr"}, "transform": [{"filter": "datum.k == 'b90_3'"}], "mark": {"type": "line", "color": "black", "strokeWidth": 1.6},
      "encoding": {"x": {"field": "t", "type": "quantitative", "scale": {"domain": [0, 170], "nice": false, "zero": false}, "axis": null}, "y": {"field": "i", "type": "quantitative", "scale": {"domain": [0, 102.5], "nice": false, "zero": false}, "axis": null}}}
    ], "spacing": 0, "resolve": {"scale": {"x": "independent", "y": "independent"}}}
  ], "spacing": 32, "resolve": {"scale": {"x": "independent", "y": "independent"}}}
], "spacing": 8, "resolve": {"scale": {"x": "independent", "y": "independent"}}},
{"width": 301, "height": 181,
 "title": {"text": "(c)", "font": "Liberation Serif", "fontSize": 16, "fontWeight": "bold", "color": "black", "anchor": "start", "frame": "group", "dx": -4, "offset": 30},
 "data": {"name": "np"},
 "encoding": {"x": {"field": "na", "type": "quantitative", "title": "[Na] in mM", "scale": {"domain": [0, 100], "range": [29, 301], "nice": false},
   "axis": {"values": [0, 20, 40, 60, 80, 100], "titlePadding": 5}}},
 "layer": [
  {"mark": {"type": "rule", "color": "black", "strokeWidth": 1.2},
   "encoding": {"y": {"field": "lo", "type": "quantitative", "title": "NP(0)", "scale": {"domain": [0, 3], "nice": false},
     "axis": {"values": [0, 0.5, 1, 1.5, 2, 2.5, 3], "format": ".1f", "labelOverlap": false, "offset": -29, "titlePadding": 4}},
    "y2": {"field": "hi"}}},
  {"mark": {"type": "tick", "orient": "horizontal", "color": "black", "size": 7, "thickness": 1.2}, "encoding": {"y": {"field": "lo", "type": "quantitative", "title": "NP(0)", "axis": {"values": [0, 0.5, 1, 1.5, 2, 2.5, 3], "format": ".1f", "labelOverlap": false, "offset": -29, "titlePadding": 4}}}},
  {"mark": {"type": "tick", "orient": "horizontal", "color": "black", "size": 7, "thickness": 1.2}, "encoding": {"y": {"field": "hi", "type": "quantitative", "title": "NP(0)", "axis": {"values": [0, 0.5, 1, 1.5, 2, 2.5, 3], "format": ".1f", "labelOverlap": false, "offset": -29, "titlePadding": 4}}}},
  {"mark": {"type": "line", "color": "black", "strokeWidth": 1.5}, "encoding": {"y": {"field": "np", "type": "quantitative", "title": "NP(0)", "axis": {"values": [0, 0.5, 1, 1.5, 2, 2.5, 3], "format": ".1f", "labelOverlap": false, "offset": -29, "titlePadding": 4}}, "detail": {"field": "g", "type": "nominal"}}},
  {"mark": {"type": "point", "filled": true, "color": "black", "size": 36, "opacity": 1},
   "encoding": {"y": {"field": "np", "type": "quantitative", "title": "NP(0)", "axis": {"values": [0, 0.5, 1, 1.5, 2, 2.5, 3], "format": ".1f", "labelOverlap": false, "offset": -29, "titlePadding": 4}},
    "shape": {"field": "g", "type": "nominal", "scale": {"domain": ["DMSO", "p38 Inhibitor"], "range": ["triangle-up", "square"]}, "legend": null}}},
  {"transform": [{"filter": "false"}],
   "mark": {"type": "point", "filled": true, "color": "black", "opacity": 1},
   "encoding": {"y": {"field": "np", "type": "quantitative", "title": "NP(0)", "axis": {"values": [0, 0.5, 1, 1.5, 2, 2.5, 3], "format": ".1f", "labelOverlap": false, "offset": -29, "titlePadding": 4}},
    "shape": {"field": "g", "type": "nominal", "scale": {"domain": ["DMSO", "p38 Inhibitor"], "range": ["M-2.9,-0.3H2.9V0.3H-2.9ZM0,-1.2L1.1,0.75L-1.1,0.75Z", "M-2.9,-0.3H2.9V0.3H-2.9ZM-0.95,-0.95H0.95V0.95H-0.95Z"]},
     "legend": {"title": null, "orient": "none", "legendX": 307, "legendY": 53, "padding": 0, "labelFont": "Liberation Sans", "labelFontSize": 8.5, "labelFontWeight": "bold", "labelColor": "black", "symbolSize": 20, "rowPadding": 5, "labelOffset": 13, "symbolFillColor": "black", "symbolOpacity": 1}}}}
 ],
 "resolve": {"scale": {"shape": "independent"}, "legend": {"shape": "independent"}}}
],
"spacing": 33,
"resolve": {"scale": {"x": "independent", "y": "independent"}, "legend": {"shape": "independent"}}
}
